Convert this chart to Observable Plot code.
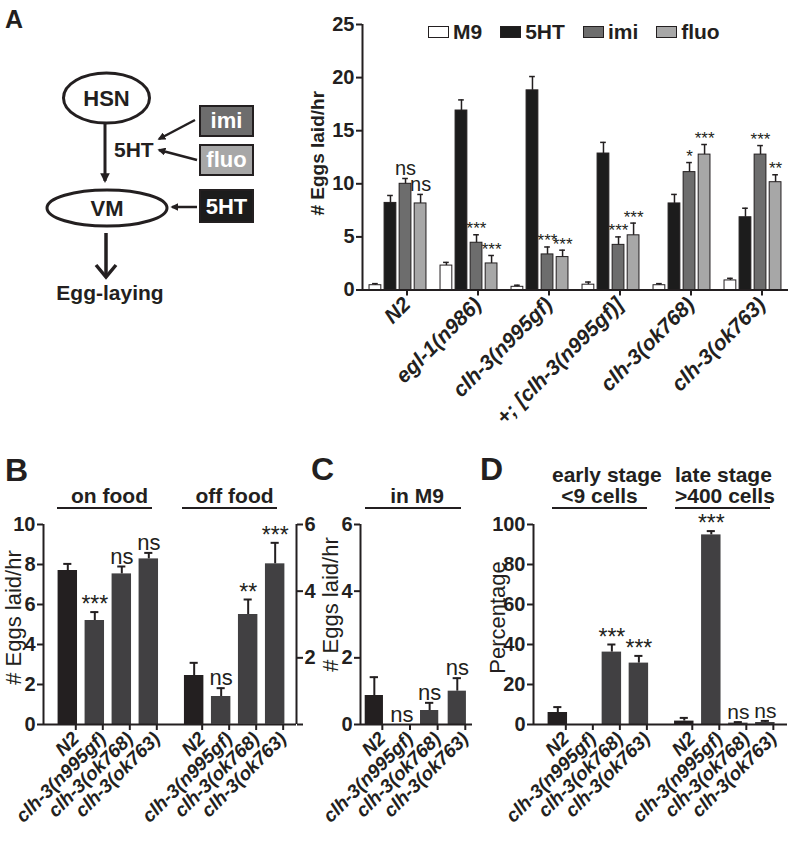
<!DOCTYPE html>
<html><head><meta charset="utf-8">
<script src="https://cdn.jsdelivr.net/npm/d3@7"></script>
<script src="https://cdn.jsdelivr.net/npm/@observablehq/plot@0.6"></script>
<style>
body{margin:0;background:#fff;}
#fig{position:relative;width:788px;height:853px;background:#fff;font-family:"Liberation Sans",Arial,sans-serif;color:#231f20;overflow:hidden}
.abs{position:absolute}
.letter{position:absolute;font-weight:bold;line-height:1}
.hdr{position:absolute;border-bottom:2px solid #231f20;text-align:center;font-weight:bold;font-size:21px;line-height:21px;padding-bottom:1px;box-sizing:content-box;white-space:nowrap}
.leg{position:absolute;left:428px;top:20px;display:flex;align-items:center;gap:18px;font-weight:bold;font-size:21px;line-height:24px}
.leg span.sw{display:inline-block;width:19px;height:10px;border:1.2px solid #231f20;margin-right:4px;vertical-align:middle}
.leg div{display:flex;align-items:center}
</style></head><body>
<div id="fig">
  <div class="letter" style="left:5px;top:7px;font-size:25px">A</div>
  <div class="letter" style="left:5px;top:454px;font-size:32px">B</div>
  <div class="letter" style="left:311px;top:453px;font-size:32px">C</div>
  <div class="letter" style="left:480px;top:453px;font-size:32px">D</div>

  <svg class="abs" style="left:0;top:0" width="300" height="320" font-family="Liberation Sans, Arial, sans-serif" font-weight="bold">
    <defs>
      <marker id="ah" viewBox="0 0 10 10" refX="8" refY="5" markerWidth="3.2" markerHeight="3.2" orient="auto">
        <path d="M0,0L10,5L0,10z" fill="#231f20"/>
      </marker>
    </defs>
    <ellipse cx="106.5" cy="98" rx="43" ry="25" fill="none" stroke="#231f20" stroke-width="3"/>
    <text x="106.5" y="106" font-size="22" text-anchor="middle" fill="#231f20">HSN</text>
    <line x1="105" y1="123" x2="105" y2="181" stroke="#231f20" stroke-width="3" marker-end="url(#ah)"/>
    <text x="114" y="157" font-size="21" fill="#231f20">5HT</text>
    <rect x="200" y="106" width="53" height="30" fill="#6d6d6d" stroke="#231f20" stroke-width="2"/>
    <text x="226.5" y="128" font-size="22" text-anchor="middle" fill="#fff">imi</text>
    <rect x="200" y="145" width="53" height="30" fill="#a7a7a7" stroke="#231f20" stroke-width="2"/>
    <text x="226.5" y="167" font-size="22" text-anchor="middle" fill="#fff">fluo</text>
    <rect x="200" y="190" width="53" height="32" fill="#1c1c1c" stroke="#231f20" stroke-width="2"/>
    <text x="226.5" y="214" font-size="22" text-anchor="middle" fill="#fff">5HT</text>
    <line x1="195" y1="120" x2="159" y2="139" stroke="#231f20" stroke-width="2.5" marker-end="url(#ah)"/>
    <line x1="197" y1="160" x2="159" y2="150" stroke="#231f20" stroke-width="2.5" marker-end="url(#ah)"/>
    <line x1="197" y1="207" x2="172" y2="207" stroke="#231f20" stroke-width="2.5" marker-end="url(#ah)"/>
    <ellipse cx="107" cy="208" rx="60" ry="18" fill="none" stroke="#231f20" stroke-width="3"/>
    <text x="107" y="216" font-size="22" text-anchor="middle" fill="#231f20">VM</text>
    <line x1="106" y1="233" x2="106" y2="276" stroke="#231f20" stroke-width="3.5"/>
    <path d="M96,265L106,277L116,265" fill="none" stroke="#231f20" stroke-width="3.5"/>
    <text x="110" y="300" font-size="21" text-anchor="middle" fill="#231f20">Egg-laying</text>
  </svg>

  <div class="leg">
    <div><span class="sw" style="background:#ffffff"></span>M9</div>
    <div><span class="sw" style="background:#1c1c1c"></span>5HT</div>
    <div><span class="sw" style="background:#6d6d6d"></span>imi</div>
    <div><span class="sw" style="background:#a7a7a7"></span>fluo</div>
  </div>

  <div class="hdr" style="left:57px;top:485px;width:85px;padding-left:10px">on food</div>
  <div class="hdr" style="left:182px;top:485px;width:85px;padding-left:10px">off food</div>
  <div class="hdr" style="left:365px;top:485px;width:88px;padding-left:8px">in M9</div>
  <div class="hdr" style="left:552px;top:464px;width:95px">early stage<br>&lt;9 cells</div>
  <div class="hdr" style="left:675px;top:464px;width:95px">late stage<br>&gt;400 cells</div>
</div>
<script>
// ---------- Panel A data ----------
const aGroups = ["N2", "egl-1(n986)", "clh-3(n995gf)", "+; [clh-3(n995gf)]", "clh-3(ok768)", "clh-3(ok763)"];
const aSeries = ["M9", "5HT", "imi", "fluo"];
const aM9 = [0.45, 2.3, 0.3, 0.5, 0.45, 0.9];
const aM9Sem = [0.15, 0.3, 0.15, 0.25, 0.15, 0.2];
const a5HT = [8.2, 16.9, 18.8, 12.85, 8.15, 6.85];
const a5HTSem = [0.7, 1.0, 1.3, 1.05, 0.85, 0.85];
const aImi = [10.0, 4.45, 3.35, 4.25, 11.1, 12.75];
const aImiSem = [0.5, 0.75, 0.7, 0.75, 0.9, 0.85];
const aFluo = [8.15, 2.5, 3.1, 5.15, 12.75, 10.15];
const aFluoSem = [0.85, 0.75, 0.65, 1.15, 0.95, 0.7];
const aImiSig = ["ns", "***", "***", "***", "*", "***"];
const aFluoSig = ["ns", "***", "***", "***", "***", "**"];

// ---------- Panels B-D data ----------
const strains = ["N2", "clh-3(n995gf)", "clh-3(ok768)", "clh-3(ok763)"];
const bOnFood = [7.7, 5.2, 7.53, 8.28];
const bOnFoodSem = [0.33, 0.42, 0.37, 0.3];
const bOnFoodSig = ["", "***", "ns", "ns"];
const bOffFood = [1.47, 0.84, 3.3, 4.82];
const bOffFoodSem = [0.38, 0.25, 0.45, 0.63];
const bOffFoodSig = ["", "ns", "**", "***"];
const cInM9 = [0.87, 0, 0.42, 1.0];
const cInM9Sem = [0.55, 0, 0.23, 0.39];
const cInM9Sig = ["", "ns", "ns", "ns"];
const dEarly = [6.0, 0, 36.2, 30.7];
const dEarlySem = [2.7, 0, 3.8, 3.6];
const dEarlySig = ["", "", "***", "***"];
const dLate = [1.7, 94.8, 0.7, 1.0];
const dLateSem = [1.6, 1.9, 0.5, 0.8];
const dLateSig = ["", "***", "ns", "ns"];

// ---------- helpers ----------
const FONT = '"Liberation Sans", Arial, sans-serif';
const INK = "#231f20";
const fig = document.getElementById("fig");
const baseStyle = {background: "transparent", overflow: "visible", fontFamily: FONT, color: INK};
const intFmt = d3.format("d");
function mount(node, left, top) {
  const d = document.createElement("div");
  d.className = "abs"; d.style.left = left + "px"; d.style.top = top + "px";
  d.appendChild(node); fig.appendChild(d);
}
function sigMarks(rows, nsSize, starSize, nsDy, starDy) {
  const ns = rows.filter(d => d.sig === "ns");
  const st = rows.filter(d => d.sig && d.sig !== "ns");
  return [
    Plot.text(ns, {x: "x", y: d => d.v + d.e, text: "sig", fontSize: nsSize, fontWeight: "normal", fill: INK, dy: nsDy}),
    Plot.text(st, {x: "x", y: d => d.v + d.e, text: "sig", fontSize: starSize, fontWeight: "normal", fill: INK, dy: starDy})
  ];
}
function errMarks(rows, cap, sw) {
  const r = rows.filter(d => d.e > 0);
  return [
    Plot.ruleX(r, {x: "x", y1: "v", y2: d => d.v + d.e, stroke: INK, strokeWidth: sw}),
    Plot.ruleY(r, {y: d => d.v + d.e, x1: d => d.x - cap, x2: d => d.x + cap, stroke: INK, strokeWidth: sw})
  ];
}
function yTitle(label, x, y, dx, dy, size, weight) {
  return Plot.text([label], {text: d => d, x: () => x, y: () => y, rotate: -90, dx, dy, fontSize: size, fontWeight: weight, fill: INK});
}

// ---------- Panel A chart ----------
const aVals = [aM9, a5HT, aImi, aFluo];
const aSems = [aM9Sem, a5HTSem, aImiSem, aFluoSem];
const aRows = [];
aGroups.forEach((g, gi) => aSeries.forEach((s, si) => {
  aRows.push({group: g, series: s, x: gi + (si - 1.5) * 0.212, v: aVals[si][gi], e: aSems[si][gi],
    sig: si === 2 ? aImiSig[gi] : si === 3 ? aFluoSig[gi] : ""});
}));
const plotA = Plot.plot({
  width: 488, height: 450, marginLeft: 62, marginRight: 0, marginTop: 24, marginBottom: 160.5,
  x: {domain: [-0.5, 5.5], axis: null}, y: {domain: [0, 25], axis: null},
  color: {type: "ordinal", domain: aSeries, range: ["#ffffff", "#1c1c1c", "#6d6d6d", "#a7a7a7"]},
  style: baseStyle,
  marks: [
    Plot.rect(aRows, {x1: d => d.x - 0.083, x2: d => d.x + 0.083, y1: 0, y2: "v", fill: "series", stroke: INK, strokeWidth: 1}),
    ...errMarks(aRows, 0.04, 1.5),
    ...sigMarks(aRows, 20, 17, -9.5, -6),
    Plot.ruleX([-0.5], {stroke: INK, strokeWidth: 2}),
    Plot.ruleY([0], {stroke: INK, strokeWidth: 2}),
    Plot.axisY({ticks: d3.range(0, 26, 5), tickFormat: intFmt, tickSize: 6, strokeWidth: 2, fontSize: 20, fontWeight: "bold", label: null, tickPadding: 2}),
    Plot.axisX({ticks: d3.range(aGroups.length), tickFormat: (d, i) => aGroups[i], tickRotate: -45, tickSize: 6, strokeWidth: 2,
      fontSize: 21, fontWeight: "bold", fontStyle: "italic", label: null, tickPadding: 5, dx: 9}),
    yTitle("# Eggs laid/hr", -0.5, 12.5, -45, -4, 19, "bold")
  ]
});
mount(plotA, 300, 0);

// ---------- grouped panels B-D ----------
const GAP = 1.68;
function rowsOf(vals, sems, sigs, offset) {
  return vals.map((v, i) => ({strain: strains[i], x: offset + i, v, e: sems[i], sig: sigs[i], dark: i === 0}));
}
function barMarks(rows, half) {
  return Plot.rect(rows, {x1: d => d.x - half, x2: d => d.x + half, y1: 0, y2: "v",
    fill: d => d.dark ? "#231f20" : "#414042"});
}
const xLabelOpts = {tickRotate: -45, tickSize: 6, strokeWidth: 2, fontSize: 19, fontWeight: "bold", fontStyle: "italic", label: null, tickPadding: 5, dx: 8};
const yAxisOpts = {tickFormat: intFmt, tickSize: 6, strokeWidth: 2, fontSize: 20, fontWeight: "bold", label: null, tickPadding: 2};

// Panel B (on food, left axis)
const bOnRows = rowsOf(bOnFood, bOnFoodSem, bOnFoodSig, 0);
const bOffRows = rowsOf(bOffFood, bOffFoodSem, bOffFoodSig, 3 + GAP);
const bTicks = [...bOnRows, ...bOffRows];
const bDims = {width: 320, height: 403, marginLeft: 43, marginRight: 24, marginTop: 74, marginBottom: 129};
const plotB1 = Plot.plot({
  ...bDims, x: {domain: [-0.9, 8.47], axis: null}, y: {domain: [0, 10], axis: null}, style: baseStyle,
  marks: [
    barMarks(bOnRows, 0.36),
    ...errMarks(bOnRows, 0.15, 2),
    ...sigMarks(bOnRows, 22, 23, -10, -7),
    Plot.ruleX([-0.9], {stroke: INK, strokeWidth: 2}),
    Plot.ruleY([0], {stroke: INK, strokeWidth: 2}),
    Plot.axisY({ticks: d3.range(0, 11, 2), ...yAxisOpts}),
    Plot.axisX({ticks: bTicks.map(d => d.x), tickFormat: (d, i) => bTicks[i].strain, ...xLabelOpts}),
    yTitle("# Eggs laid/hr", -0.9, 5, -30, -7, 22, "normal")
  ]
});
mount(plotB1, 0, 450);
// Panel B (off food, right axis 0-6)
const plotB2 = Plot.plot({
  ...bDims, x: {domain: [-0.9, 8.47], axis: null}, y: {domain: [0, 6], axis: null}, style: baseStyle,
  marks: [
    barMarks(bOffRows, 0.36),
    ...errMarks(bOffRows, 0.15, 2),
    ...sigMarks(bOffRows, 22, 23, -10, -7),
    Plot.ruleX([8.47], {stroke: INK, strokeWidth: 2}),
    Plot.axisY({anchor: "right", ticks: [0, 2, 4, 6], ...yAxisOpts, tickFormat: d => d === 0 ? "" : intFmt(d)})
  ]
});
mount(plotB2, 0, 450);

// Panel C
const cRows = rowsOf(cInM9, cInM9Sem, cInM9Sig, 0);
const plotC = Plot.plot({
  width: 200, height: 403, marginLeft: 70, marginRight: 18, marginTop: 74, marginBottom: 129,
  x: {domain: [-0.5, 3.55], axis: null}, y: {domain: [0, 6], axis: null}, style: baseStyle,
  marks: [
    barMarks(cRows, 0.33),
    ...errMarks(cRows, 0.15, 2),
    ...sigMarks(cRows, 22, 23, -10, -7),
    Plot.ruleX([-0.5], {stroke: INK, strokeWidth: 2}),
    Plot.ruleY([0], {stroke: INK, strokeWidth: 2}),
    Plot.axisY({ticks: [0, 2, 4, 6], ...yAxisOpts}),
    Plot.axisX({ticks: cRows.map(d => d.x), tickFormat: (d, i) => cRows[i].strain, ...xLabelOpts}),
    yTitle("# Eggs laid/hr", -0.5, 3, -30, -20, 22, "normal")
  ]
});
mount(plotC, 290, 450);

// Panel D
const dEarlyRows = rowsOf(dEarly, dEarlySem, dEarlySig, 0);
const dLateRows = rowsOf(dLate, dLateSem, dLateSig, 3 + GAP);
const dAll = [...dEarlyRows, ...dLateRows];
const plotD = Plot.plot({
  width: 318, height: 403, marginLeft: 63, marginRight: 1, marginTop: 74, marginBottom: 129,
  x: {domain: [-0.9, 8.5], axis: null}, y: {domain: [0, 100], axis: null}, style: baseStyle,
  marks: [
    barMarks(dAll, 0.36),
    ...errMarks(dAll, 0.15, 2),
    ...sigMarks(dAll, 21, 23, -10, -7),
    Plot.ruleX([-0.9], {stroke: INK, strokeWidth: 2}),
    Plot.ruleY([0], {stroke: INK, strokeWidth: 2}),
    Plot.axisY({ticks: d3.range(0, 101, 20), ...yAxisOpts}),
    Plot.axisX({ticks: dAll.map(d => d.x), tickFormat: (d, i) => dAll[i].strain, ...xLabelOpts}),
    yTitle("Percentage", -0.9, 50, -36, -7, 22, "normal")
  ]
});
mount(plotD, 470, 450);
</script>
</body></html>
